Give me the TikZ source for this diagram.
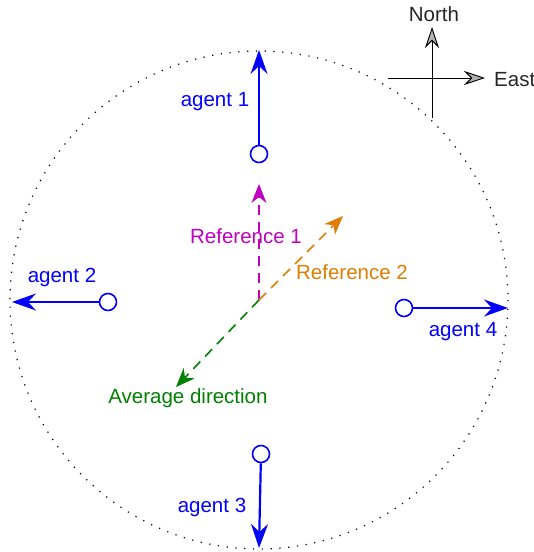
\documentclass[tikz,border=0pt]{standalone}
\usepackage{fontspec}
\setmainfont{Liberation Sans}
\usetikzlibrary{arrows.meta}
\definecolor{agentblue}{RGB}{0, 0, 255}
\definecolor{refmagenta}{RGB}{191, 0, 191}
\definecolor{reforange}{RGB}{222, 125, 0}
\definecolor{avggreen}{RGB}{0, 128, 0}

\tikzset{
  agentdot/.style={circle, draw=agentblue, line width=1.6pt, minimum size=17pt, inner sep=0pt},
  agentarrow/.style={draw=agentblue, line width=2.2pt, -{Stealth[length=24pt, width=17pt, inset=8pt]}},
  refarrow/.style={line width=1.6pt, dash pattern=on 10pt off 7pt, -{Stealth[length=19pt, width=15pt, inset=6pt]}},
  compassarrow/.style={line width=0.9pt, -{Stealth[length=21pt, width=14pt, inset=7pt, fill=gray!60]}},
  lbl/.style={font=\fontsize{20.5}{24}\selectfont, inner sep=0pt}
}

\begin{document}
\begin{tikzpicture}[x=1pt, y=-1pt]
            \useasboundingbox (0,0) rectangle (534,552);
            % Boundary
            \draw[line width=1.2pt, dash pattern=on 1.2pt off 7.6pt] (259,300) circle (249);
            % Agents
            \node[agentdot] (a1) at (259,154) {};
            \node[agentdot] (a2) at (108,302) {};
            \node[agentdot] (a3) at (261,454) {};
            \node[agentdot] (a4) at (404,308) {};
            \coordinate (h1) at (259,50);
            \coordinate (h2) at (12,302);
            \coordinate (h3) at (259,548);
            \coordinate (h4) at (508,308);
            \draw[agentarrow] (a1) -- (h1);
            \draw[agentarrow] (a2) -- (h2);
            \draw[agentarrow] (a3) -- (h3);
            \draw[agentarrow] (a4) -- (h4);
            \node[lbl, text=agentblue] (l1) at (215,102) {agent 1};
            \node[lbl, text=agentblue] (l2) at (62,277) {agent 2};
            \node[lbl, text=agentblue] (l3) at (212,507) {agent 3};
            \node[lbl, text=agentblue] (l4) at (463,332) {agent 4};
            % References & average
            \coordinate (o) at (259,300);
            \coordinate (r1) at (259,184);
            \coordinate (r2) at (343,216);
            \coordinate (av) at (176,387);
            \draw[refarrow, color=refmagenta] (o) -- (r1);
            \draw[refarrow, color=reforange] (o) -- (r2);
            \draw[refarrow, color=avggreen] (o) -- (av);
            \node[lbl, text=refmagenta] (lr1) at (246,236) {Reference 1};
            \node[lbl, text=reforange] (lr2) at (352,272) {Reference 2};
            \node[lbl, text=avggreen] (lav) at (188,398) {Average direction};
            % Compass
            \coordinate (cs) at (432,118);
            \coordinate (cn) at (432,27);
            \coordinate (cw) at (388,78);
            \coordinate (ce) at (485,78);
            \draw[compassarrow] (cs) -- (cn);
            \draw[compassarrow] (cw) -- (ce);
            \node[lbl, text=black!85] (north) at (434,14) {North};
            \node[lbl, text=black!85, anchor=west] (east) at (494,80) {East};
        \end{tikzpicture}
\end{document}
